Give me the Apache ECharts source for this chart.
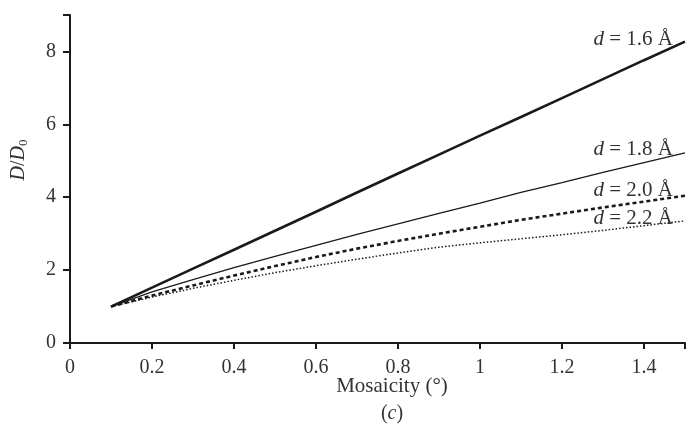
<!DOCTYPE html>
<html>
<head>
<meta charset="utf-8">
<script src="https://cdn.jsdelivr.net/npm/echarts@6/dist/echarts.min.js"></script>
<style>html,body{margin:0;padding:0;background:#fff}#c{width:688px;height:424px}</style>
</head>
<body>
<div id="c"></div>
<script>
var mosaicity = [0.1,0.2,0.3,0.4,0.5,0.6,0.7,0.8,0.9,1.0,1.1,1.2,1.3,1.4,1.5];
var d16 = [1,1.52,2.04,2.56,3.08,3.60,4.13,4.65,5.17,5.69,6.20,6.72,7.24,7.76,8.27];
var d18 = [1,1.40,1.74,2.07,2.38,2.68,2.98,3.27,3.56,3.84,4.13,4.40,4.68,4.95,5.22];
var d20 = [1,1.30,1.58,1.85,2.11,2.36,2.59,2.80,3.00,3.19,3.38,3.55,3.72,3.88,4.04];
var d22 = [1,1.26,1.50,1.72,1.93,2.12,2.30,2.47,2.63,2.75,2.86,2.97,3.09,3.22,3.35];
var xTicks = [0,0.2,0.4,0.6,0.8,1,1.2,1.4];
var yTicks = [0,2,4,6,8];
var seriesNames = ['1.6','1.8','2.0','2.2'];

var FONT = 'Liberation Serif';
var INK = '#1a1a1a';
var TXT = '#333';
function pairs(ys){ return mosaicity.map(function(x,i){ return [x, ys[i]]; }); }
function mk(name, ys, width, type, offY){
  return {
    type:'line', name:name, data:pairs(ys), showSymbol:false, smooth:false,
    lineStyle:{color:INK, width:width, type:type},
    emphasis:{disabled:true},
    endLabel:{show:true, align:'right', verticalAlign:'middle', offset:[-20, offY],
      fontFamily:FONT, fontSize:21, color:TXT,
      formatter:'{i|d} = '+name+' Å',
      rich:{i:{fontStyle:'italic', fontFamily:FONT, fontSize:21, color:TXT}}}
  };
}
var chart = echarts.init(document.getElementById('c'), null, {renderer:'canvas'});
chart.setOption({
  animation:false,
  backgroundColor:'#fff',
  grid:{left:70, right:3, top:15, bottom:81, containLabel:false},
  xAxis:{type:'value', min:0, max:1.5, interval:0.2,
    axisLine:{show:true, onZero:false, lineStyle:{color:INK, width:2}},
    axisTick:{show:true, length:6, lineStyle:{color:INK, width:2}},
    axisLabel:{fontFamily:FONT, fontSize:20, color:TXT, margin:15,
      formatter:function(v){ var r=Math.round(v*10)/10; return xTicks.indexOf(r)>=0 ? String(r) : ''; }},
    splitLine:{show:false}},
  yAxis:{type:'value', min:0, max:9, interval:2,
    axisLine:{show:true, lineStyle:{color:INK, width:2}},
    axisTick:{show:true, length:7, lineStyle:{color:INK, width:2}},
    axisLabel:{fontFamily:FONT, fontSize:20, color:TXT, margin:14,
      formatter:function(v){ return yTicks.indexOf(v)>=0 ? String(v) : ''; }},
    splitLine:{show:false}},
  graphic:[
    {type:'text', x:19, y:160, rotation:Math.PI/2, style:{
      text:'{i|D}/{i|D}{s|0}', align:'center', verticalAlign:'middle',
      fontFamily:FONT, fontSize:20, fill:TXT,
      rich:{i:{fontStyle:'italic', fontFamily:FONT, fontSize:20, fill:TXT, color:TXT},
            s:{fontFamily:FONT, fontSize:13, verticalAlign:'bottom', padding:[9,0,0,0], color:TXT, fill:TXT}}}},
    {type:'text', x:392, y:386, style:{text:'Mosaicity (°)', align:'center', verticalAlign:'middle',
      fontFamily:FONT, fontSize:21, fill:TXT}},
    {type:'text', x:392, y:414, style:{text:'({i|c})', align:'center', verticalAlign:'middle',
      fontFamily:FONT, fontSize:20, fill:TXT,
      rich:{i:{fontStyle:'italic', fontFamily:FONT, fontSize:20, fill:TXT, color:TXT}}}}
  ],
  series:[
    mk(seriesNames[0], d16, 2.6, 'solid', -2),
    mk(seriesNames[1], d18, 1.3, 'solid', -3),
    mk(seriesNames[2], d20, 2.6, [4,3], -5),
    mk(seriesNames[3], d22, 1.5, [1.5,2], -2)
  ]
});
</script>
</body>
</html>
